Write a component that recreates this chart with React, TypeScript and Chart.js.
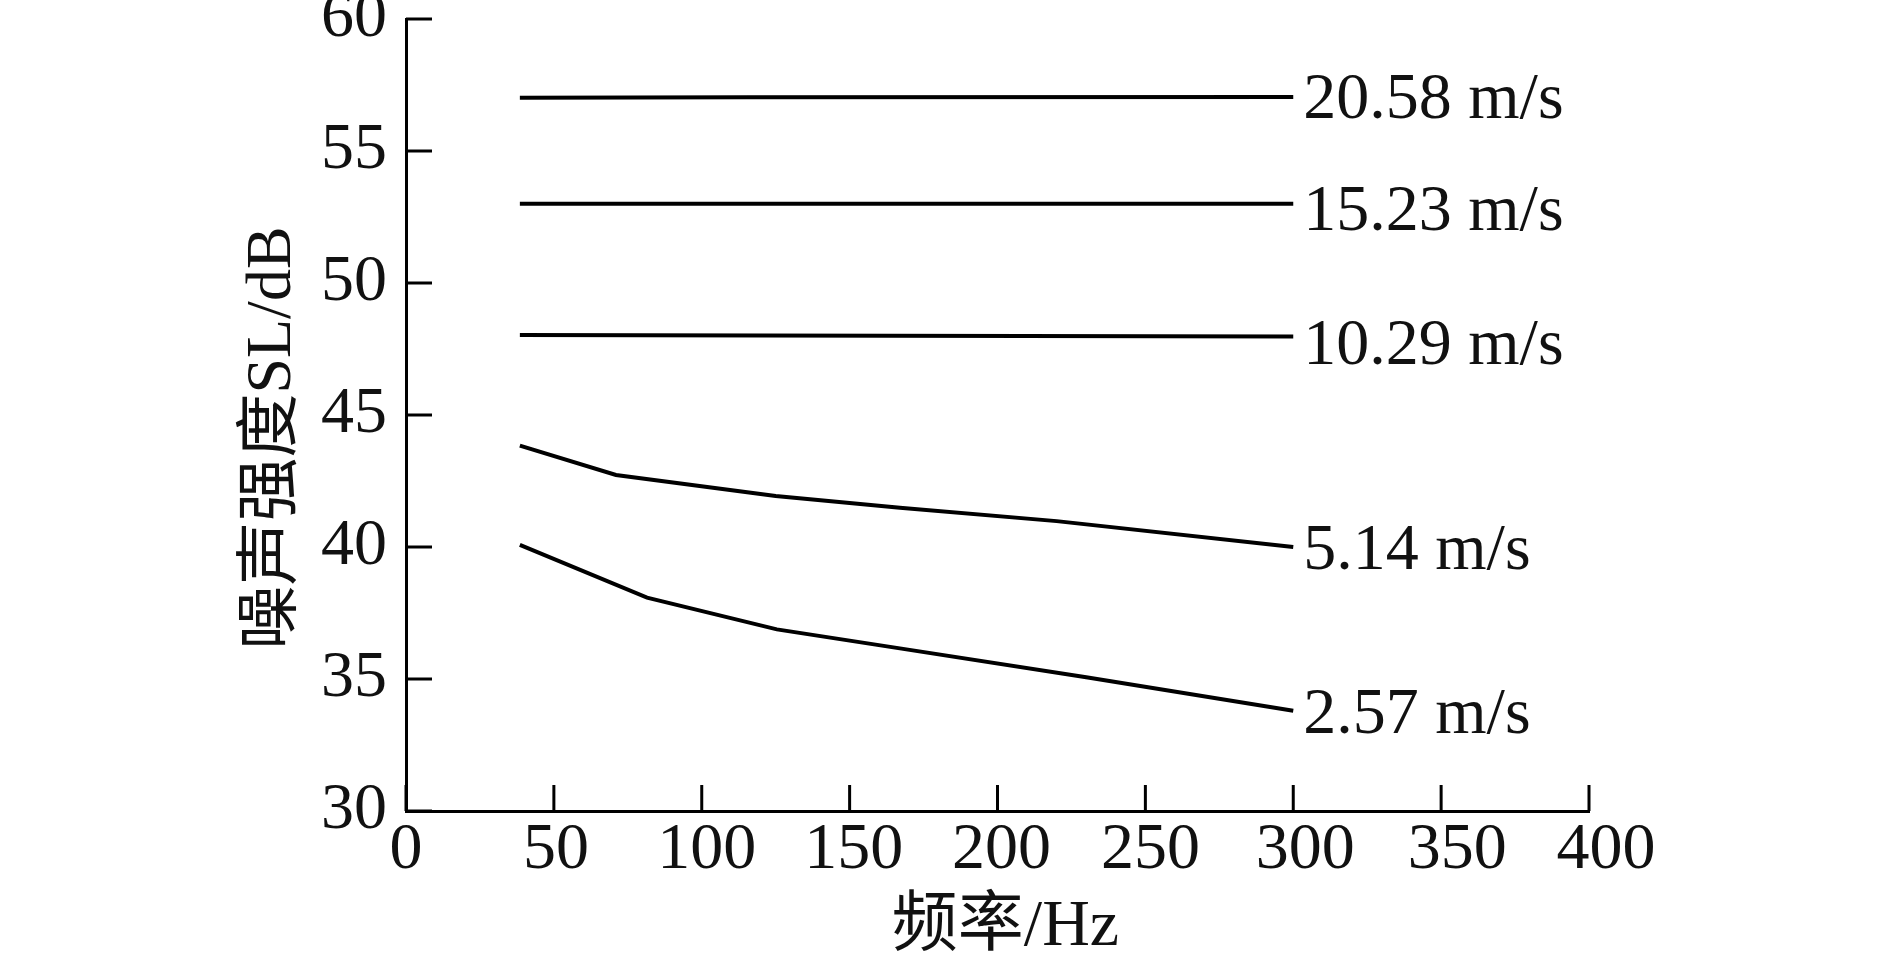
import React, { useEffect, useRef } from "react";
import { Chart, registerables } from "chart.js";

Chart.register(...registerables);

// ---- data ----
const speedLabels = ["2.57 m/s", "5.14 m/s", "10.29 m/s", "15.23 m/s", "20.58 m/s"];

const freq_2_57 = [38.5, 81.5, 125.4, 167, 230, 300];
const sl_2_57 = [40.08, 38.08, 36.88, 36.16, 35.07, 33.8];

const freq_5_14 = [38.5, 71, 125, 167, 220, 300];
const sl_5_14 = [43.84, 42.73, 41.93, 41.49, 40.98, 40.0];

const freq_10_29 = [38.5, 163, 300];
const sl_10_29 = [48.03, 48.0, 47.97];

const freq_15_23 = [38.5, 300];
const sl_15_23 = [53.0, 53.0];

const freq_20_58 = [38.5, 115, 300];
const sl_20_58 = [57.02, 57.04, 57.05];

const xTicks = [0, 50, 100, 150, 200, 250, 300, 350, 400];
const yTicks = [30, 35, 40, 45, 50, 55, 60];

const xTitle = "频率/Hz";
const yTitle = "噪声强度SL/dB";

// ---- layout / style (not data) ----
const FONT = '"Liberation Serif", "Times New Roman", "Noto Sans CJK SC", serif';
const labelDy = [4.5, 5, 10.5, 8.5, 3.5];
const xLabelShift = [0, 2, 5, 4, 4, 5, 12, 16, 17];

const toPoints = (xs: number[], ys: number[]) => xs.map((x, i) => ({ x, y: ys[i] }));

const seriesX = [freq_2_57, freq_5_14, freq_10_29, freq_15_23, freq_20_58];
const seriesY = [sl_2_57, sl_5_14, sl_10_29, sl_15_23, sl_20_58];

const decorPlugin = {
  id: "decor",
  afterDraw(chart: any) {
    const { ctx, chartArea, scales } = chart;
    const xs = scales.x;
    const ys = scales.y;
    ctx.save();
    ctx.strokeStyle = "#000";
    ctx.lineWidth = 3;
    const tickLen = 26;
    // inward ticks
    for (const v of yTicks) {
      const py = ys.getPixelForValue(v);
      ctx.beginPath();
      ctx.moveTo(chartArea.left, py);
      ctx.lineTo(chartArea.left + tickLen, py);
      ctx.stroke();
    }
    for (const v of xTicks) {
      const px = xs.getPixelForValue(v);
      ctx.beginPath();
      ctx.moveTo(px, chartArea.bottom);
      ctx.lineTo(px, chartArea.bottom - tickLen);
      ctx.stroke();
    }
    ctx.fillStyle = "#111";
    // x tick labels
    ctx.font = `66px ${FONT}`;
    ctx.textAlign = "center";
    ctx.textBaseline = "middle";
    xTicks.forEach((v, i) => {
      ctx.fillText(String(v), xs.getPixelForValue(v) + xLabelShift[i], chartArea.bottom + 40);
    });
    // series labels
    ctx.textAlign = "left";
    chart.data.datasets.forEach((ds: any, i: number) => {
      const meta = chart.getDatasetMeta(i);
      const last = meta.data[meta.data.length - 1];
      ctx.fillText(speedLabels[i], last.x + 10, last.y + labelDy[i]);
    });
    // axis titles
    ctx.textAlign = "center";
    ctx.font = `66px ${FONT}`;
    const cx = (chartArea.left + chartArea.right) / 2 + 8;
    ctx.fillText(xTitle, cx, chartArea.bottom + 117);
    ctx.save();
    ctx.font = `64px ${FONT}`;
    ctx.translate(chartArea.left - 133, (chartArea.top + chartArea.bottom) / 2 + 23);
    ctx.rotate(-Math.PI / 2);
    ctx.fillText(yTitle, 0, 0);
    ctx.restore();
    ctx.restore();
  },
};

export default function App() {
  const ref = useRef<HTMLCanvasElement | null>(null);

  useEffect(() => {
    document.body.style.margin = "0";
    const canvas = ref.current!;
    const chart = new Chart(canvas, {
      type: "line",
      data: {
        datasets: seriesX.map((xsArr, i) => ({
          label: speedLabels[i],
          data: toPoints(xsArr, seriesY[i]),
          borderColor: "#000",
          borderWidth: 4,
          pointRadius: 0,
          tension: 0,
          fill: false,
        })),
      },
      options: {
        responsive: false,
        animation: false,
        devicePixelRatio: 1,
        layout: { padding: { left: 0, top: 19, right: 300, bottom: 0 } },
        plugins: {
          legend: { display: false },
          tooltip: { enabled: false },
        },
        scales: {
          x: {
            type: "linear",
            min: 0,
            max: 400,
            afterBuildTicks: (s: any) => {
              s.ticks = xTicks.map((v) => ({ value: v }));
            },
            afterFit: (s: any) => {
              s.height = 146;
              s.paddingLeft = 0;
              s.paddingRight = 0;
            },
            grid: { display: false },
            border: { display: true, color: "#000", width: 3 },
            ticks: { display: false },
          },
          y: {
            type: "linear",
            min: 30,
            max: 60,
            afterBuildTicks: (s: any) => {
              s.ticks = yTicks.map((v) => ({ value: v }));
            },
            afterFit: (s: any) => {
              s.width = 406;
              s.paddingTop = 0;
              s.paddingBottom = 0;
            },
            grid: { display: false },
            border: { display: true, color: "#000", width: 3 },
            ticks: {
              color: "#111",
              padding: 11,
              autoSkip: false,
              font: { family: FONT, size: 66 },
            },
          },
        },
      },
      plugins: [decorPlugin],
    } as any);
    return () => chart.destroy();
  }, []);

  return (
    <div style={{ width: 1889, height: 957, background: "#fff" }}>
      <canvas ref={ref} width={1889} height={957} style={{ display: "block" }} />
    </div>
  );
}
